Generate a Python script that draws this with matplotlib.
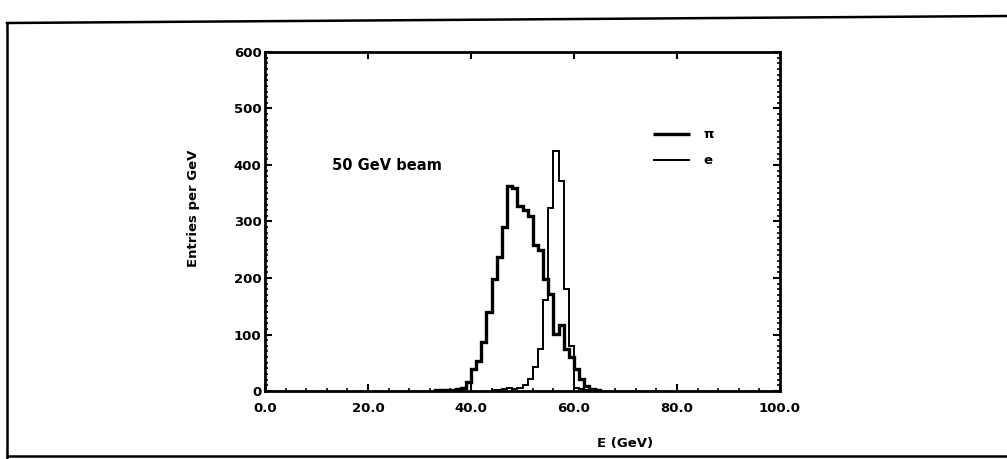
import matplotlib
matplotlib.use('Agg')
import matplotlib.pyplot as plt
from matplotlib.lines import Line2D
from matplotlib.ticker import MultipleLocator

# energy spectra, 1 GeV bins, counts per bin starting at the first edge
pion_first_edge = 33
pion_counts = [1, 1, 2, 2, 3, 6, 16, 39, 53, 87, 140, 199, 238, 291, 362, 360,
               327, 320, 309, 258, 249, 199, 172, 101, 116, 75, 60, 39, 21, 8, 3, 1]
elec_first_edge = 44
elec_counts = [1, 2, 4, 5, 3, 6, 10, 21, 42, 75, 161, 324, 425, 371, 181, 80,
               6, 4, 2, 1]

x_ticks = [0, 20, 40, 60, 80, 100]
x_tick_labels = ['0.0', '20.0', '40.0', '60.0', '80.0', '100.0']
y_ticks = [0, 100, 200, 300, 400, 500, 600]

FIG_W, FIG_H = 1007, 459
BOLD = dict(fontweight='bold', fontsize=9.5, family='DejaVu Sans')

fig = plt.figure(figsize=(FIG_W / 100, FIG_H / 100), dpi=100)
fig.patch.set_facecolor('white')

# axes box in pixels: x 265..780, y 52..391
ax = fig.add_axes([265 / FIG_W, 1 - 391 / FIG_H, 515 / FIG_W, 339 / FIG_H])

pion_edges = list(range(pion_first_edge, pion_first_edge + len(pion_counts) + 1))
elec_edges = list(range(elec_first_edge, elec_first_edge + len(elec_counts) + 1))

PION_LW, ELEC_LW = 2.4, 1.4
ax.stairs(pion_counts, pion_edges, color='black', linewidth=PION_LW)
ax.stairs(elec_counts, elec_edges, color='black', linewidth=ELEC_LW)

ax.set_xlim(0, 100)
ax.set_ylim(0, 600)

for side in ax.spines.values():
    side.set_linewidth(2.0)

ax.set_xticks(x_ticks)
ax.set_xticklabels(x_tick_labels, **BOLD)
ax.set_yticks(y_ticks)
ax.set_yticklabels([str(v) for v in y_ticks], **BOLD)
ax.xaxis.set_minor_locator(MultipleLocator(4))
ax.yaxis.set_minor_locator(MultipleLocator(10))

ax.tick_params(which='major', direction='in', length=5, width=1.5,
               top=True, right=True)
ax.tick_params(which='minor', direction='in', length=2.5, width=1.2,
               top=False, right=True)
ax.tick_params(axis='x', which='major', pad=8)
ax.tick_params(axis='y', which='major', pad=2.5)

ax.set_ylabel('Entries per GeV', **BOLD)
ax.yaxis.set_label_coords(-0.127, 0.54)
ax.set_xlabel('E (GeV)', **BOLD)
ax.xaxis.set_label_coords(0.70, -0.137)

ax.text(0.13, 0.665, '50 GeV beam', transform=ax.transAxes, ha='left',
        va='center', fontweight='bold', fontsize=10.5, family='DejaVu Sans')

# key: line sample followed by the particle symbol
for label, lw, row in [('π', PION_LW, 0.758), ('e', ELEC_LW, 0.681)]:
    ax.plot([0.753, 0.825], [row, row], transform=ax.transAxes,
            color='black', linewidth=lw, solid_capstyle='butt')
    ax.text(0.852, row, label, transform=ax.transAxes, ha='left',
            va='center', **BOLD)

# scanned page border
fig.add_artist(Line2D([7 / FIG_W, 7 / FIG_W], [0, 1 - 23 / FIG_H],
                      color='black', linewidth=1.8))
fig.add_artist(Line2D([7 / FIG_W, 1], [1 - 23 / FIG_H, 1 - 16 / FIG_H],
                      color='black', linewidth=1.8))
fig.add_artist(Line2D([7 / FIG_W, 1], [1 - 456 / FIG_H, 1 - 456 / FIG_H],
                      color='black', linewidth=1.8))

fig.savefig('out.png', dpi=100, facecolor='white')
